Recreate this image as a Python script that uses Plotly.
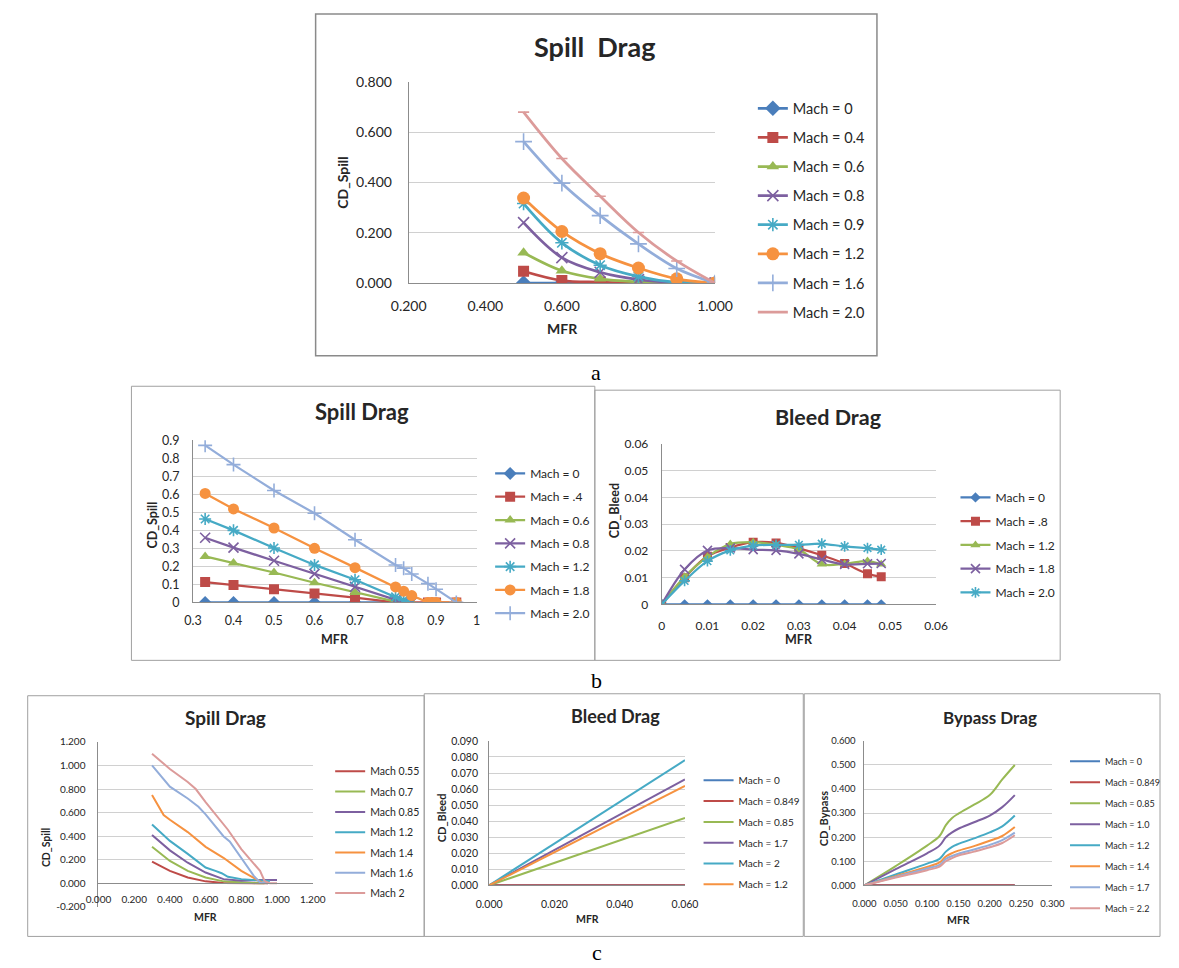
import plotly.graph_objects as go

W, H = 1179, 968
def px(x): return x / W
def py(y): return 1 - y / H

FONT = "Lato"
TXT = "#262626"
GRID = "#D0D0D0"
AXL = "#8C8C8C"
BLUE, RED, GREEN, PURPLE, AQUA, ORANGE, LBLUE, PINK = (
    "#4A7EBB", "#BE4B48", "#98B954", "#7D60A0", "#46AAC5", "#F69240", "#93ADDA", "#DC9B9A")

# ---------------- Panel a : Spill Drag ----------------
a_mfr = [0.5, 0.6, 0.7, 0.8, 0.9, 1.0]
a_names = ["Mach = 0", "Mach = 0.4", "Mach = 0.6", "Mach = 0.8", "Mach = 0.9", "Mach = 1.2", "Mach = 1.6", "Mach = 2.0"]
a_m00 = [0.0, 0.0, 0.0, 0.0, 0.0, 0.0]
a_m04 = [0.047, 0.010, 0.004, 0.0, 0.0, 0.0]
a_m06 = [0.121, 0.049, 0.017, 0.005, 0.0, 0.0]
a_m08 = [0.240, 0.101, 0.043, 0.014, 0.002, 0.0]
a_m09 = [0.316, 0.160, 0.071, 0.026, 0.003, 0.0]
a_m12 = [0.338, 0.205, 0.117, 0.060, 0.017, 0.0]
a_m16 = [0.562, 0.397, 0.268, 0.156, 0.058, 0.0]
a_m20 = [0.679, 0.495, 0.345, 0.201, 0.088, 0.0]

# ---------------- Panel b left : Spill Drag ----------------
b1_names = ["Mach = 0", "Mach = .4", "Mach = 0.6", "Mach = 0.8", "Mach = 1.2", "Mach = 1.8", "Mach = 2.0"]
b1_x00 = [0.33, 0.4, 0.5, 0.6, 0.7, 0.8]
b1_m00 = [0, 0, 0, 0, 0, 0]
b1_x04 = [0.33, 0.4, 0.5, 0.6, 0.7, 0.8, 0.88, 0.9, 0.95]
b1_m04 = [0.113, 0.097, 0.073, 0.049, 0.026, 0.0, 0.0, 0.0, 0.0]
b1_x06 = [0.33, 0.4, 0.5, 0.6, 0.7, 0.8, 0.82, 0.84]
b1_m06 = [0.255, 0.219, 0.166, 0.109, 0.055, 0.004, 0.0, 0.0]
b1_x08 = [0.33, 0.4, 0.5, 0.6, 0.7, 0.8, 0.82, 0.84]
b1_m08 = [0.359, 0.304, 0.231, 0.158, 0.086, 0.013, 0.0, 0.0]
b1_x12 = [0.33, 0.4, 0.5, 0.6, 0.7, 0.8, 0.82, 0.83]
b1_m12 = [0.463, 0.400, 0.302, 0.208, 0.126, 0.031, 0.013, 0.0]
b1_x18 = [0.33, 0.4, 0.5, 0.6, 0.7, 0.8, 0.82, 0.84, 0.88, 0.89, 0.9, 0.95]
b1_m18 = [0.605, 0.519, 0.413, 0.300, 0.193, 0.086, 0.062, 0.038, 0.0, 0.0, 0.0, 0.0]
b1_x20 = [0.33, 0.4, 0.5, 0.6, 0.7, 0.8, 0.82, 0.84, 0.88, 0.9, 0.95]
b1_m20 = [0.872, 0.765, 0.621, 0.495, 0.348, 0.208, 0.190, 0.158, 0.104, 0.073, 0.0]

# ---------------- Panel b right : Bleed Drag ----------------
b2_names = ["Mach = 0", "Mach = .8", "Mach = 1.2", "Mach = 1.8", "Mach = 2.0"]
b2_mfr = [0, 0.005, 0.01, 0.015, 0.02, 0.025, 0.03, 0.035, 0.04, 0.045, 0.048]
b2_m00 = [0, 0, 0, 0, 0, 0, 0, 0, 0, 0, 0]
b2_m08 = [0, 0.0100, 0.0180, 0.0213, 0.0233, 0.0230, 0.0210, 0.0184, 0.0153, 0.0115, 0.0103]
b2_m12 = [0, 0.0103, 0.0178, 0.0226, 0.0233, 0.0223, 0.0205, 0.0150, 0.0152, 0.0162, 0.0150]
b2_m18 = [0, 0.0131, 0.0202, 0.0211, 0.0205, 0.0202, 0.0189, 0.0168, 0.0150, 0.0152, 0.0153]
b2_m20 = [0, 0.0088, 0.0162, 0.0202, 0.0220, 0.0223, 0.0223, 0.0227, 0.0217, 0.0211, 0.0205]

# ---------------- Panel c left : Spill Drag ----------------
c1_names = ["Mach 0.55", "Mach 0.7", "Mach 0.85", "Mach 1.2", "Mach 1.4", "Mach 1.6", "Mach 2"]
c1_x055 = [0.30, 0.40, 0.50, 0.60, 0.70, 0.80, 0.90, 0.95]
c1_m055 = [0.184, 0.106, 0.050, 0.017, 0.003, 0.0, 0.0, 0.0]
c1_x07 = [0.30, 0.40, 0.50, 0.60, 0.70, 0.80, 0.90, 0.93]
c1_m07 = [0.310, 0.190, 0.106, 0.050, 0.017, 0.006, 0.0, 0.0]
c1_x085 = [0.30, 0.40, 0.50, 0.60, 0.70, 0.80, 0.90, 1.00]
c1_m085 = [0.410, 0.280, 0.175, 0.092, 0.036, 0.022, 0.028, 0.028]
c1_x12 = [0.30, 0.40, 0.50, 0.60, 0.655, 0.69, 0.725, 0.80, 0.90, 0.96]
c1_m12 = [0.500, 0.360, 0.250, 0.134, 0.106, 0.086, 0.056, 0.036, 0.025, 0.020]
c1_x14 = [0.30, 0.365, 0.40, 0.47, 0.50, 0.60, 0.70, 0.80, 0.90, 0.925]
c1_m14 = [0.750, 0.580, 0.540, 0.470, 0.435, 0.310, 0.217, 0.106, 0.022, 0.0]
c1_x16 = [0.30, 0.40, 0.50, 0.56, 0.60, 0.70, 0.735, 0.80, 0.87, 0.905, 0.95]
c1_m16 = [1.000, 0.820, 0.720, 0.650, 0.585, 0.400, 0.355, 0.217, 0.064, 0.008, 0.0]
c1_x20 = [0.30, 0.40, 0.50, 0.545, 0.60, 0.70, 0.725, 0.80, 0.905, 0.93, 0.96, 1.00]
c1_m20 = [1.100, 0.970, 0.860, 0.800, 0.690, 0.500, 0.455, 0.290, 0.106, 0.020, 0.0, 0.0]
c1_yticks = [-0.2, 0, 0.2, 0.4, 0.6, 0.8, 1.0, 1.2]
c1_yticklabels = ["-0.200", "0.000", "0.200", "0.400", "0.600", "0.800", "1.000", "1.200"]

# ---------------- Panel c middle : Bleed Drag ----------------
c2_names = ["Mach = 0", "Mach = 0.849", "Mach = 0.85", "Mach = 1.7", "Mach = 2", "Mach = 1.2"]
c2_mfr = [0.0, 0.06]
c2_m00 = [0.0, 0.0]
c2_m0849 = [0.0, 0.0]
c2_m085 = [0.0, 0.042]
c2_m17 = [0.0, 0.066]
c2_m20 = [0.0, 0.078]
c2_m12 = [0.0, 0.062]

# ---------------- Panel c right : Bypass Drag ----------------
c3_names = ["Mach = 0", "Mach = 0.849", "Mach = 0.85", "Mach = 1.0", "Mach = 1.2", "Mach = 1.4", "Mach = 1.7", "Mach = 2.2"]
c3_mfr = [0, 0.05, 0.10, 0.12, 0.13, 0.14, 0.15, 0.175, 0.20, 0.22, 0.24]
c3_m00 = [0, 0, 0, 0, 0, 0, 0, 0, 0, 0, 0]
c3_m0849 = [0, 0, 0, 0, 0, 0, 0, 0, 0, 0, 0]
c3_m085 = [0, 0.080, 0.165, 0.205, 0.250, 0.280, 0.298, 0.335, 0.375, 0.440, 0.500]
c3_m10 = [0, 0.067, 0.133, 0.165, 0.200, 0.220, 0.235, 0.262, 0.290, 0.325, 0.375]
c3_m12 = [0, 0.045, 0.090, 0.110, 0.140, 0.160, 0.172, 0.195, 0.220, 0.245, 0.290]
c3_m14 = [0, 0.038, 0.076, 0.095, 0.120, 0.134, 0.144, 0.163, 0.185, 0.205, 0.242]
c3_m17 = [0, 0.035, 0.070, 0.085, 0.110, 0.122, 0.131, 0.149, 0.168, 0.188, 0.219]
c3_m22 = [0, 0.032, 0.063, 0.078, 0.100, 0.113, 0.124, 0.140, 0.158, 0.176, 0.208]

fig = go.Figure()

def add(x, y, name, color, ax, leg, grp, symbol=None, msize=10, lw=2.5, shape="linear"):
    mode = "lines+markers" if symbol else "lines"
    kw = dict(x=x, y=y, name=name, mode=mode, xaxis="x" + ax, yaxis="y" + ax,
              legend=leg, legendgroup=grp,
              line=dict(color=color, width=lw, shape=shape))
    if symbol:
        open_sym = symbol.endswith("open")
        kw["marker"] = dict(symbol=symbol, size=msize, color=color,
                            line=dict(color=color, width=1.6 if open_sym else 0))
    fig.add_trace(go.Scatter(**kw))

# panel a
a_series = [a_m00, a_m04, a_m06, a_m08, a_m09, a_m12, a_m16, a_m20]
a_cols = [BLUE, RED, GREEN, PURPLE, AQUA, ORANGE, LBLUE, PINK]
a_syms = ["diamond", "square", "triangle-up", "x-thin-open", "asterisk-open", "circle", "cross-thin-open", "line-ew-open"]
a_sz = [12, 11, 11, 11, 11, 13, 12, 8]
for i in range(8):
    add(a_mfr, a_series[i], a_names[i], a_cols[i], "", "legend", "a%d" % i, a_syms[i], a_sz[i], 2.75, "spline")

# panel b left
b1x = [b1_x00, b1_x04, b1_x06, b1_x08, b1_x12, b1_x18, b1_x20]
b1y = [b1_m00, b1_m04, b1_m06, b1_m08, b1_m12, b1_m18, b1_m20]
b1_cols = [BLUE, RED, GREEN, PURPLE, AQUA, ORANGE, LBLUE]
b1_syms = ["diamond", "square", "triangle-up", "x-thin-open", "asterisk-open", "circle", "cross-thin-open"]
b1_sz = [10, 10, 10, 10, 10, 11, 10]
for i in range(7):
    add(b1x[i], b1y[i], b1_names[i], b1_cols[i], "2", "legend2", "b%d" % i, b1_syms[i], b1_sz[i], 2.25)

# panel b right
b2y = [b2_m00, b2_m08, b2_m12, b2_m18, b2_m20]
b2_cols = [BLUE, RED, GREEN, PURPLE, AQUA]
b2_syms = ["diamond", "square", "triangle-up", "x-thin-open", "asterisk-open"]
b2_sz = [8, 9, 9, 9, 9]
for i in range(5):
    add(b2_mfr, b2y[i], b2_names[i], b2_cols[i], "3", "legend3", "c%d" % i, b2_syms[i], b2_sz[i], 2.25, "spline")

# panel c left
c1x = [c1_x055, c1_x07, c1_x085, c1_x12, c1_x14, c1_x16, c1_x20]
c1y = [c1_m055, c1_m07, c1_m085, c1_m12, c1_m14, c1_m16, c1_m20]
c1_cols = [RED, GREEN, PURPLE, AQUA, ORANGE, LBLUE, PINK]
for i in range(7):
    add(c1x[i], c1y[i], c1_names[i], c1_cols[i], "4", "legend4", "d%d" % i, None, lw=2)

# panel c middle
c2y = [c2_m00, c2_m0849, c2_m085, c2_m17, c2_m20, c2_m12]
c2_cols = [BLUE, RED, GREEN, PURPLE, AQUA, ORANGE]
for i in range(6):
    add(c2_mfr, c2y[i], c2_names[i], c2_cols[i], "5", "legend5", "e%d" % i, None, lw=2)

# panel c right
c3y = [c3_m00, c3_m0849, c3_m085, c3_m10, c3_m12, c3_m14, c3_m17, c3_m22]
c3_cols = [BLUE, RED, GREEN, PURPLE, AQUA, ORANGE, LBLUE, PINK]
for i in range(8):
    add(c3_mfr, c3y[i], c3_names[i], c3_cols[i], "6", "legend6", "f%d" % i, None, lw=2, shape="spline")

def xax(dom, rng, dtick, fmt, fs, stand, **kw):
    d = dict(domain=dom, range=rng, dtick=dtick, tick0=rng[0], tickformat=fmt,
             showgrid=False, zeroline=False, showline=True, linecolor=AXL, linewidth=1,
             ticks="", tickfont=dict(family=FONT, size=fs, color=TXT),
             ticklabelstandoff=stand, fixedrange=True)
    d.update(kw)
    return d

def yax(dom, rng, dtick, fmt, fs, stand, **kw):
    d = dict(domain=dom, range=rng, dtick=dtick, tick0=rng[0], tickformat=fmt,
             showgrid=True, gridcolor=GRID, gridwidth=1, zeroline=False,
             showline=True, linecolor=AXL, linewidth=1,
             ticks="", tickfont=dict(family=FONT, size=fs, color=TXT),
             ticklabelstandoff=stand, fixedrange=True)
    d.update(kw)
    return d

layout = dict(
    width=W, height=H, margin=dict(l=0, r=0, t=0, b=0),
    paper_bgcolor="white", plot_bgcolor="white",
    font=dict(family=FONT, color=TXT),
    xaxis=xax([px(403), px(719)], [0.2, 1.0], 0.2, ".3f", 14, 10, anchor="y"),
    yaxis=yax([py(279), py(74)], [0, 0.8], 0.2, ".3f", 14, 13, anchor="x"),
    xaxis2=xax([px(180.5), px(473)], [0.3, 1.0], 0.1, "", 12.5, 7, anchor="y2"),
    yaxis2=yax([py(604), py(439)], [0, 0.9], 0.1, "", 12.5, 10, anchor="x2"),
    xaxis3=xax([px(664), px(947)], [0, 0.06], 0.01, "", 12, 10, anchor="y3"),
    yaxis3=yax([py(606), py(443)], [0, 0.06], 0.01, "", 12, 10, anchor="x3"),
    xaxis4=xax([px(83), px(304)], [0, 1.2], 0.2, ".3f", 10, 7, anchor="free", position=py(890)),
    yaxis4=yax([py(914), py(746)], [-0.2, 1.2], 0.2, "", 10, 10, anchor="x4",
               tickmode="array", tickvals=c1_yticks, ticktext=c1_yticklabels),
    xaxis5=xax([px(486), px(688)], [0, 0.06], 0.02, ".3f", 10.5, 9, anchor="y5"),
    yaxis5=yax([py(892), py(745)], [0, 0.09], 0.01, ".3f", 10.5, 8, anchor="x5"),
    xaxis6=xax([px(873), px(1067)], [0, 0.3], 0.05, ".3f", 9.5, 9, anchor="y6"),
    yaxis6=yax([py(892), py(745)], [0, 0.6], 0.1, ".3f", 9.5, 6, anchor="x6"),
)

def leg(x, yc, fs, gap):
    return dict(x=px(x), y=py(yc), xanchor="left", yanchor="middle",
                font=dict(family=FONT, size=fs, color=TXT), bgcolor="rgba(0,0,0,0)",
                traceorder="grouped", tracegroupgap=gap, itemwidth=30,
                itemclick=False, itemdoubleclick=False)

layout["legend"] = leg(758, 205, 14.5, 7.25)
layout["legend2"] = leg(487, 544, 12, 4.3)
layout["legend3"] = leg(967, 545.5, 12, 4.75)
layout["legend4"] = leg(322, 838, 10.5, 1.3)
layout["legend5"] = leg(702, 838, 10, 1.8)
layout["legend6"] = leg(1080, 840.5, 9, 2.0)

fig.update_layout(**layout)

ann = []
def text(x, y, s, size, bold=True, angle=0, family=FONT, color=TXT):
    ann.append(dict(x=px(x), y=py(y), xref="paper", yref="paper", text=("<b>%s</b>" % s) if bold else s,
                    showarrow=False, xanchor="center", yanchor="middle", textangle=angle,
                    font=dict(family=family, size=size, color=color)))

# chart titles
text(595, 38, "Spill&nbsp;&nbsp;Drag", 27)
text(355, 410, "Spill Drag", 22)
text(836, 415, "Bleed Drag", 21.5)
text(214, 721, "Spill Drag", 19)
text(616, 720, "Bleed Drag", 18)
text(1003, 721, "Bypass Drag", 17)
# axis titles
text(562, 325, "MFR", 14)
text(335, 177, "CD_Spill", 14, angle=-90)
text(327, 642, "MFR", 12.5)
text(139, 525, "CD_Spill", 12.5, angle=-90)
text(806, 642, "MFR", 12.5)
text(615, 511, "CD_Bleed", 12.5, angle=-90)
text(193, 924, "MFR", 10.5)
text(29, 854, "CD_Spill", 10.5, angle=-90)
text(587, 926, "MFR", 10.5)
text(437, 823, "CD_Bleed", 11, angle=-90)
text(970, 927, "MFR", 10.5)
text(831, 824, "CD_Bypass", 11, angle=-90)
# figure part labels
text(596, 370, "a", 22, bold=False, family="Liberation Serif", color="black")
text(597, 683, "b", 22, bold=False, family="Liberation Serif", color="black")
text(597, 960, "c", 22, bold=False, family="Liberation Serif", color="black")

fig.update_layout(annotations=ann)

# chart area borders
boxes = [(307, 5, 886, 353, 1.5, "#8A8A8A"), (117, 384, 595, 663, 1, "#A0A0A0"),
         (595, 388, 1075, 663, 1, "#A0A0A0"), (10, 699, 419, 944, 1, "#A0A0A0"),
         (419, 697, 810, 944, 1, "#A0A0A0"), (811, 697, 1178, 944, 1, "#A0A0A0")]
shapes = []
for x0, y0, x1, y1, w, c in boxes:
    shapes.append(dict(type="rect", xref="paper", yref="paper", x0=px(x0), x1=px(x1),
                       y0=py(y1), y1=py(y0), line=dict(color=c, width=w), fillcolor="rgba(0,0,0,0)", layer="below"))
fig.update_layout(shapes=shapes)

fig.write_html("out.html", config={"displayModeBar": False})
